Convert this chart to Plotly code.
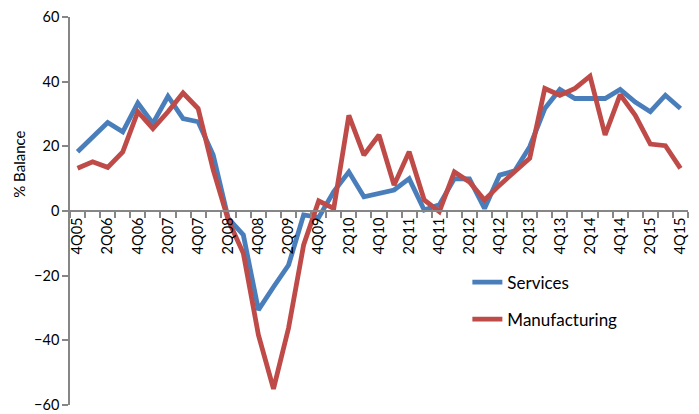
import plotly.graph_objects as go

quarters = ["4Q05","1Q06","2Q06","3Q06","4Q06","1Q07","2Q07","3Q07","4Q07",
            "1Q08","2Q08","3Q08","4Q08","1Q09","2Q09","3Q09","4Q09",
            "1Q10","2Q10","3Q10","4Q10","1Q11","2Q11","3Q11","4Q11",
            "1Q12","2Q12","3Q12","4Q12","1Q13","2Q13","3Q13","4Q13",
            "1Q14","2Q14","3Q14","4Q14","1Q15","2Q15","3Q15","4Q15"]

services = [18.3, 22.7, 27.4, 24.5, 33.4, 27.1, 35.5, 28.6, 27.6,
            17.3, -2.3, -7.4, -30.6, -23.5, -16.7, -1.2, -2.0,
            6.0, 12.1, 4.4, 5.5, 6.5, 10.0, 0.3, 1.9,
            10.0, 9.9, 0.8, 11.1, 12.4, 19.9, 31.7, 37.6,
            34.8, 34.8, 34.8, 37.6, 33.7, 30.7, 35.8, 31.7]

manufacturing = [13.2, 15.2, 13.5, 18.3, 30.7, 25.5, 30.7, 36.5, 31.7,
                 12.7, -2.8, -13.1, -38.3, -55.0, -36.2, -10.5, 3.1,
                 0.8, 29.6, 17.3, 23.5, 8.0, 18.3, 3.4, -0.2,
                 12.1, 9.0, 3.4, 8.0, 12.1, 16.3, 37.9, 35.8,
                 37.9, 41.7, 23.5, 36.0, 29.6, 20.7, 20.2, 13.2]

y_ticks = [-60, -40, -20, 0, 20, 40, 60]
y_title = "% Balance"

idx = list(range(len(quarters)))
label_idx = idx[::2]
label_text = quarters[::2]

grey = "#868686"
font_family = "Lato, 'Open Sans', sans-serif"

fig = go.Figure()
fig.add_trace(go.Scatter(x=idx, y=services, mode="lines", name="Services",
                         line=dict(color="#4A7EBB", width=4.8),
                         legendgroup="s"))
fig.add_trace(go.Scatter(x=idx, y=manufacturing, mode="lines", name="Manufacturing",
                         line=dict(color="#BE4B48", width=4.8),
                         legendgroup="m"))

fig.add_annotation(text=y_title, textangle=-90, showarrow=False,
                   xref="paper", yref="paper", x=-0.083, y=0.621,
                   xanchor="center", yanchor="middle",
                   font=dict(size=15, family=font_family, color="#000000"))

fig.update_layout(
    width=699, height=414,
    margin=dict(l=62, r=19, t=9, b=17),
    paper_bgcolor="white", plot_bgcolor="white",
    font=dict(family=font_family, color="#000000"),
    showlegend=True,
    legend=dict(x=0.643, y=0.362, xanchor="left", yanchor="top",
                font=dict(size=17, family=font_family),
                tracegroupgap=12, bgcolor="rgba(0,0,0,0)"),
    xaxis=dict(range=[-0.5, len(quarters) - 0.5],
               tickmode="array", tickvals=label_idx, ticktext=label_text,
               tickangle=-90, tickfont=dict(size=14.5),
               showgrid=False, zeroline=False, automargin=False,
               showline=True, linecolor=grey, linewidth=1.5,
               anchor="free", position=0.5,
               ticks="",
               minor=dict(ticks="outside", ticklen=6, tickcolor=grey,
                          tick0=-0.5, dtick=1, tickwidth=1.5, showgrid=False)),
    yaxis=dict(range=[-60, 60], tickmode="array", tickvals=y_ticks,
               tickfont=dict(size=14.5), automargin=False,
               showgrid=False, zeroline=False,
               showline=True, linecolor=grey, linewidth=1.5,
               ticks="outside", ticklen=6, tickcolor=grey, tickwidth=1.5),
)

fig.write_html("out.html")
